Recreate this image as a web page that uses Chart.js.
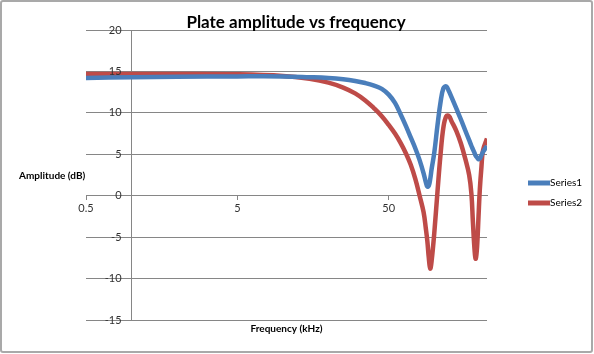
<!DOCTYPE html>
<html>
<head>
<meta charset="utf-8">
<title>Plate amplitude vs frequency</title>
<script src="https://cdn.jsdelivr.net/npm/chart.js@4.4.1/dist/chart.umd.min.js"></script>
<style>
  html, body { margin: 0; padding: 0; background: #fff; }
  #wrap { position: relative; width: 594px; height: 354px; }
  #frame {
    position: absolute; left: 0; top: 0; width: 593px; height: 353px;
    box-sizing: border-box; border: 2px solid #a9a9a9; border-radius: 3px;
    pointer-events: none;
  }
</style>
</head>
<body>
<div id="wrap">
  <canvas id="plateChart" width="594" height="354"></canvas>
  <div id="frame"></div>
</div>
<script>
// frequency samples (kHz), shared by both series
const freqKHz = [0.5, 1, 2, 5, 10, 15, 20, 25, 30, 35, 40, 45, 50, 55, 60, 65, 70, 75, 80, 85, 88, 90, 92, 94, 96, 100,
                 105, 110, 115, 120, 125, 130, 140, 150, 160, 170, 176, 180, 185, 188, 192, 196, 200, 205, 210, 223];
// amplitude (dB)
const series1 = [14.2, 14.3, 14.35, 14.4, 14.4, 14.3, 14.2, 14.05, 13.85, 13.6, 13.3, 12.9, 12.2, 11.2, 9.8, 8.4, 7.0, 5.7, 4.3, 2.7, 1.6, 1.1, 1.2, 2.0, 3.2, 5.2,
                 8.5, 11.3, 13.0, 13.2, 12.6, 11.9, 10.5, 9.2, 7.9, 6.7, 6.0, 5.6, 5.1, 4.8, 4.6, 4.4, 4.5, 4.9, 5.3, 6.0];
const series2 = [14.7, 14.7, 14.7, 14.65, 14.45, 14.1, 13.65, 13.05, 12.35, 11.5, 10.55, 9.6, 8.55, 7.5, 6.35, 5.1, 3.7, 2.0, 0.0, -2.0, -4.0, -5.5, -7.5, -8.8, -7.9, -4.5,
                 0.5, 5.0, 8.3, 9.6, 9.6, 9.0, 7.8, 6.3, 4.5, 2.5, 0.2, -3.2, -6.8, -7.6, -6.0, -2.5, 0.8, 3.5, 5.5, 6.9];
const seriesNames = ['Series1', 'Series2'];
const xTicks = [0.5, 5, 50];
const yCrossAt = 1;   // value axis crosses the log axis at 1 kHz

const chartTitle = 'Plate amplitude vs frequency';
const xTitle = 'Frequency (kHz)';
const yTitle = 'Amplitude (dB)';

const FONT = 'Lato, "DejaVu Sans", sans-serif';
const GRID = '#868686';

const toPoints = vals => freqKHz.map((f, i) => ({ x: f, y: vals[i] }));

// title, axis titles, y tick labels and legend drawn Excel-style
const excelLabels = {
  id: 'excelLabels',
  afterDraw(chart) {
    const { ctx, chartArea, scales } = chart;
    ctx.save();
    ctx.fillStyle = '#000';

    ctx.font = 'bold 17px ' + FONT;
    ctx.textAlign = 'center';
    ctx.textBaseline = 'alphabetic';
    ctx.fillText(chartTitle, 296, 28);

    ctx.font = 'bold 10px ' + FONT;
    ctx.textBaseline = 'middle';
    ctx.textAlign = 'left';
    ctx.fillText(yTitle, 19, 176);
    ctx.textAlign = 'center';
    ctx.fillText(xTitle, (chartArea.left + chartArea.right) / 2, 329);

    // y tick labels, right aligned a little left of the value axis
    const axisX = scales.x.getPixelForValue(yCrossAt);
    ctx.font = '11px ' + FONT;
    ctx.fillStyle = '#333';
    ctx.textAlign = 'right';
    scales.y.ticks.forEach(t => {
      ctx.fillText(String(t.value), axisX - 10, scales.y.getPixelForValue(t.value));
    });

    // legend
    ctx.font = '10px ' + FONT;
    ctx.textAlign = 'left';
    chart.data.datasets.forEach((ds, i) => {
      const y = 183 + i * 20;
      ctx.strokeStyle = ds.borderColor;
      ctx.lineWidth = 5;
      ctx.beginPath();
      ctx.moveTo(528, y);
      ctx.lineTo(550, y);
      ctx.stroke();
      ctx.fillStyle = '#000';
      ctx.fillText(ds.label, 550, y);
    });
    ctx.restore();
  }
};

new Chart(document.getElementById('plateChart'), {
  type: 'line',
  data: {
    datasets: [
      {
        label: seriesNames[0],
        data: toPoints(series1),
        borderColor: '#4a7ebb',
        borderWidth: 4.5,
        pointRadius: 0,
        tension: 0.4,
      },
      {
        label: seriesNames[1],
        data: toPoints(series2),
        borderColor: '#be4b48',
        borderWidth: 4.5,
        pointRadius: 0,
        tension: 0.4,
      },
    ],
  },
  options: {
    responsive: false,
    animation: false,
    layout: { padding: { left: 86, right: 107, top: 30, bottom: 34 } },
    plugins: {
      legend: { display: false },
      tooltip: { enabled: false },
      title: { display: false },
    },
    scales: {
      x: {
        type: 'logarithmic',
        min: 0.5,
        max: 223,
        position: { y: 0 },
        afterBuildTicks: scale => { scale.ticks = xTicks.map(v => ({ value: v })); },
        ticks: {
          color: '#333',
          font: { family: FONT, size: 11 },
          padding: 2,
          autoSkip: false,
          maxRotation: 0,
          callback: v => String(v),
        },
        grid: { drawOnChartArea: false, drawTicks: true, tickLength: 4, color: GRID },
        border: { color: GRID },
      },
      y: {
        min: -15,
        max: 20,
        position: { x: yCrossAt },
        ticks: { stepSize: 5, display: false },
        grid: { color: GRID, tickLength: 6 },
        border: { color: GRID },
      },
    },
  },
  plugins: [excelLabels],
});
</script>
</body>
</html>
